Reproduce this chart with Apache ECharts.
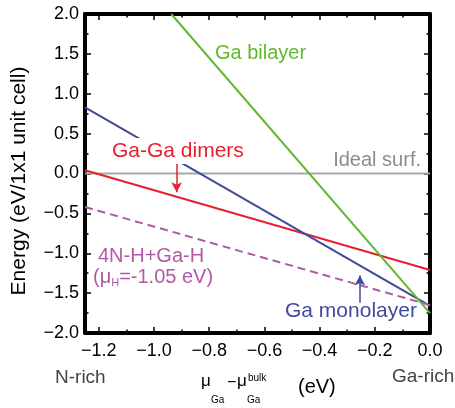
<!DOCTYPE html>
<html lang="en" style="height: 100%">
<head>
  <meta charset="utf-8">
</head>
<body style="height: 100%; margin: 0; background-color:#ffffff;">
  <div id="container" style="height: 100%"></div>

<script src="https://cdn.jsdelivr.net/npm/echarts@6/dist/echarts.min.js"></script>

<script>
  var dom = document.getElementById('container');
  var myChart = echarts.init(dom);

  // x range (mu_Ga - mu_Ga^bulk), end points of each line
  var muEnds = [-1.25, 0];
  var energyEnds = [-2, 2];
  var idealSurf = [0, 0];
  var gaGaDimers = [0.04, -1.21];
  var gaMonolayer = [0.83, -1.66];
  var nhGaH = [-0.42, -1.65];
  var gaBilayerMu = [-0.9375, 0];
  var gaBilayer = [2.0, -1.75];

  var xMajor = [-1.2, -1.0, -0.8, -0.6, -0.4, -0.2, 0.0];
  var xMinor = [-1.1, -0.9, -0.7, -0.5, -0.3, -0.1];

  // arrows: [x, yFrom, yTo]
  var dimerArrow = [-0.918, 0.14, -0.235];
  var monoArrow = [-0.254, -1.62, -1.28];

  var FONT = '"Liberation Sans", Arial, sans-serif';
  var RED = '#e8202e', BLUE = '#3f4a9b', GREEN = '#62b82f', PURPLE = '#b05aa6', GRAY = '#a8a8a8';

  function pairs(xs, ys) {
    return xs.map(function (x, i) { return [x, ys[i]]; });
  }
  function fmt(v) {
    var s = Math.abs(v) < 1e-9 ? '0.0' : v.toFixed(1);
    return s.replace('-', '\u2212');
  }
  function arrow(a, color) {
    return {
      silent: true,
      symbol: ['none', 'arrow'],
      symbolSize: [8, 10],
      label: { show: false },
      lineStyle: { color: color, width: 1.5, type: 'solid' },
      emphasis: { disabled: true },
      data: [[{ coord: [a[0], a[1]] }, { coord: [a[0], a[2]] }]]
    };
  }

  function xAx(pos, ticks, len, showLine, showLabel) {
    return {
      type: 'value', position: pos, min: muEnds[0], max: muEnds[1],
      axisLine: { show: showLine, onZero: false, lineStyle: { color: '#000', width: 4 } },
      axisTick: { show: true, inside: true, length: len, customValues: ticks, lineStyle: { color: '#000', width: 1.5 } },
      axisLabel: showLabel ? { show: true, customValues: ticks, formatter: fmt, fontSize: 18, color: '#000', fontFamily: FONT, margin: 9 } : { show: false },
      splitLine: { show: false }
    };
  }
  function yAx(pos, showLabel) {
    return {
      type: 'value', position: pos, min: energyEnds[0], max: energyEnds[1], interval: 0.5,
      axisLine: { show: true, onZero: false, lineStyle: { color: '#000', width: 4 } },
      axisTick: { show: true, inside: true, length: 6, lineStyle: { color: '#000', width: 1.5 } },
      minorTick: { show: true, splitNumber: 2, length: 3.5, lineStyle: { color: '#000', width: 1.5 } },
      axisLabel: showLabel ? { show: true, formatter: fmt, fontSize: 18, color: '#000', fontFamily: FONT, margin: 6 } : { show: false },
      splitLine: { show: false }
    };
  }

  function txt(x, y, text, size, color, extra) {
    var style = { text: text, fill: color, fontSize: size, fontFamily: FONT, align: 'left', verticalAlign: 'middle' };
    for (var k in (extra || {})) style[k] = extra[k];
    return { type: 'text', x: x, y: y, z: 100, style: style };
  }

  var option = {
    animation: false,
    grid: { left: 85, right: 25, top: 14, bottom: 75 },
    xAxis: [
      xAx('bottom', xMajor, 6, true, true),
      xAx('bottom', xMinor, 3.5, false, false),
      xAx('top', xMajor, 6, true, false),
      xAx('top', xMinor, 3.5, false, false)
    ],
    yAxis: [yAx('left', true), yAx('right', false)],
    series: [
      { name: 'Ideal surf.', type: 'line', symbol: 'none', data: pairs(muEnds, idealSurf),
        lineStyle: { color: GRAY, width: 2 } },
      { name: 'Ga-Ga dimers', type: 'line', symbol: 'none', data: pairs(muEnds, gaGaDimers),
        lineStyle: { color: RED, width: 2 }, markLine: arrow(dimerArrow, RED) },
      { name: 'Ga monolayer', type: 'line', symbol: 'none', data: pairs(muEnds, gaMonolayer),
        lineStyle: { color: BLUE, width: 2 }, markLine: arrow(monoArrow, BLUE) },
      { name: '4N-H+Ga-H', type: 'line', symbol: 'none', data: pairs(muEnds, nhGaH),
        lineStyle: { color: PURPLE, width: 2, type: [8, 5] } },
      { name: 'Ga bilayer', type: 'line', symbol: 'none', data: pairs(gaBilayerMu, gaBilayer),
        lineStyle: { color: GREEN, width: 2 } }
    ],
    graphic: [
      txt(215, 53, 'Ga bilayer', 20, GREEN),
      txt(421, 160, 'Ideal surf.', 20, '#8c8c8c', { align: 'right' }),
      txt(110, 151, 'Ga-Ga dimers', 21, RED, { backgroundColor: '#fff', padding: [3, 2, 3, 2], lineHeight: 20 }),
      txt(98, 256, '4N-H+Ga-H', 20, PURPLE),
      txt(93, 277, '{a|(\u03bc}{s|H}{a|=-1.05 eV)}', 20, PURPLE, {
        rich: {
          a: { fontSize: 20, fontFamily: FONT, fill: PURPLE, lineHeight: 22 },
          s: { fontSize: 11, fontFamily: FONT, fill: PURPLE, lineHeight: 22, padding: [12, 0, 0, 0] }
        }
      }),
      txt(285, 311, 'Ga monolayer', 21, BLUE),
      txt(55, 378, 'N-rich', 19, '#444'),
      txt(392, 377, 'Ga-rich', 19, '#444'),
      { type: 'text', x: 19, y: 181, rotation: Math.PI / 2, z: 100,
        style: { text: 'Energy (eV/1x1 unit cell)', fill: '#000', fontSize: 21, fontFamily: FONT, align: 'center', verticalAlign: 'middle' } },
      txt(201, 381, '\u03bc', 17, '#000'),
      txt(211, 400, 'Ga', 10, '#000'),
      txt(227, 383, '\u2212', 16, '#000'),
      txt(237, 381, '\u03bc', 17, '#000'),
      txt(248, 378, 'bulk', 10, '#000'),
      txt(247, 400, 'Ga', 10, '#000'),
      txt(298, 387, '(eV)', 20, '#000')
    ]
  };

  myChart.setOption(option);

  window.addEventListener('resize', myChart.resize);
</script>

</body>
</html>
